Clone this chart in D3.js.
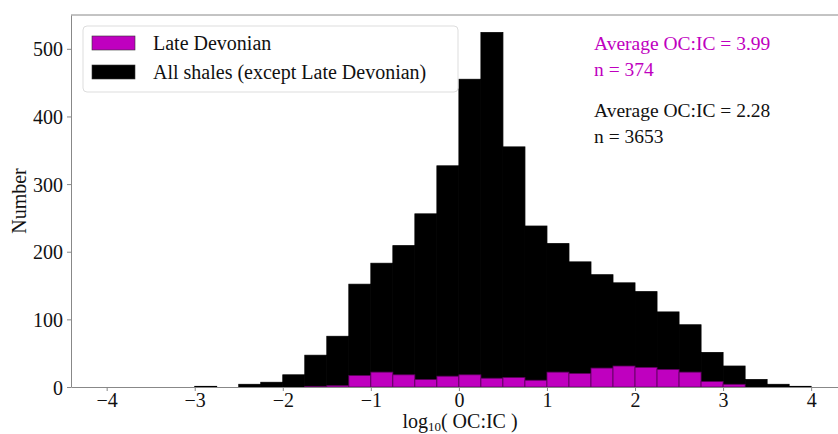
<!DOCTYPE html>
<html>
<head>
<meta charset="utf-8">
<script src="https://cdn.jsdelivr.net/npm/d3@7"></script>
<style>
  body { margin: 0; background: #fff; }
  text { font-family: "Liberation Serif", "DejaVu Serif", serif; }
</style>
</head>
<body>
<script>
// bin edges (left) of 0.25-wide bins, log10(OC:IC)
const binStarts = [-3, -2.75, -2.5, -2.25, -2, -1.75, -1.5, -1.25, -1, -0.75, -0.5, -0.25,
                   0, 0.25, 0.5, 0.75, 1, 1.25, 1.5, 1.75, 2, 2.25, 2.5, 2.75, 3, 3.25, 3.5, 3.75];
const binWidth = 0.25;
// all shales (except Late Devonian)
const allShales = [1, 0, 4, 7, 18, 47, 75, 152, 183, 209, 256, 327,
                   455, 524, 355, 238, 212, 185, 166, 154, 141, 111, 92, 51, 31, 11, 4, 1];
// Late Devonian
const lateDevonian = [0, 0, 0, 0, 0, 1, 2, 17, 22, 18, 11, 16,
                      18, 13, 14, 10, 22, 20, 28, 31, 29, 26, 22, 8, 4, 0, 0, 0];
const xTicks = [-4, -3, -2, -1, 0, 1, 2, 3, 4];
const yTicks = [0, 100, 200, 300, 400, 500];
const legendLabels = ["Late Devonian", "All shales (except Late Devonian)"];
const notes = [
  ["Average OC:IC = 3.99", "n = 374"],
  ["Average OC:IC = 2.28", "n = 3653"]
];
const purple = "#bf00bf";

const W = 838, H = 434;
const margin = {top: 15, right: 0, bottom: 47, left: 71};
const width = W - margin.left - margin.right,
      height = H - margin.top - margin.bottom;

const svg = d3.select("body").append("svg")
    .attr("width", W).attr("height", H);
const g = svg.append("g")
    .attr("transform", `translate(${margin.left},${margin.top})`);

const x = d3.scaleLinear().domain([-4.405, 4.305]).range([0, width]);
const y = d3.scaleLinear().domain([0, 550]).range([height, 0]);

// bars
function drawBars(vals, fill, stroke) {
  g.append("g").selectAll("rect")
    .data(binStarts.map((b, i) => ({b, v: vals[i]})).filter(d => d.v > 0))
    .enter().append("rect")
      .attr("x", d => x(d.b))
      .attr("y", d => y(d.v))
      .attr("width", d => x(d.b + binWidth) - x(d.b))
      .attr("height", d => y(0) - y(d.v))
      .attr("fill", fill)
      .attr("stroke", stroke)
      .attr("stroke-width", 0.8);
}
drawBars(allShales, "#000", "#000");
drawBars(lateDevonian, purple, "#5a005a");

// axes
const xAxis = g.append("g")
    .attr("transform", `translate(0,${height})`)
    .call(d3.axisBottom(x).tickValues(xTicks).tickSize(4).tickSizeOuter(0)
      .tickFormat(d => d < 0 ? "\u2212" + Math.abs(d) : d));
const yAxis = g.append("g")
    .call(d3.axisLeft(y).tickValues(yTicks).tickSize(4).tickSizeOuter(0));
[xAxis, yAxis].forEach(a => {
  a.selectAll("path, line").attr("stroke", "#888");
  a.selectAll("text").attr("fill", "#111").attr("font-size", "20px")
    .attr("font-family", "Liberation Serif");
});
xAxis.selectAll("text").attr("y", 5).attr("dy", "0.75em");
yAxis.selectAll("text").attr("dx", "-1px").attr("dy", "0.35em");

// top spine
g.append("line").attr("x1", 0).attr("x2", width).attr("y1", 0).attr("y2", 0)
  .attr("stroke", "#888");

// axis labels
svg.append("text")
  .attr("transform", "translate(26,201) rotate(-90)")
  .attr("text-anchor", "middle").attr("font-size", "20px").attr("fill", "#111")
  .text("Number");
const xl = svg.append("text")
  .attr("x", 460).attr("y", 428)
  .attr("text-anchor", "middle").attr("font-size", "20px").attr("fill", "#111");
xl.append("tspan").text("log");
xl.append("tspan").attr("font-size", "13px").attr("dy", 3).text("10");
xl.append("tspan").attr("dy", -3).text("( OC:IC )");

// legend
const lg = svg.append("g").attr("transform", "translate(83,26)");
lg.append("rect").attr("width", 375).attr("height", 66).attr("rx", 4)
  .attr("fill", "#fff").attr("stroke", "#ddd");
[purple, "#000"].forEach((c, i) => {
  lg.append("rect").attr("x", 9).attr("y", 10 + i * 29).attr("width", 43).attr("height", 14)
    .attr("fill", c).attr("stroke", "#333").attr("stroke-width", 0.6);
  lg.append("text").attr("x", 70).attr("y", 24 + i * 29)
    .attr("font-size", "20px").attr("fill", "#111").text(legendLabels[i]);
});

// annotations
notes.forEach((pair, i) => {
  pair.forEach((t, j) => {
    svg.append("text").attr("x", 594).attr("y", 50 + i * 67 + j * 26)
      .attr("font-size", "19.5px").attr("fill", i === 0 ? purple : "#111").text(t);
  });
});
</script>
</body>
</html>
